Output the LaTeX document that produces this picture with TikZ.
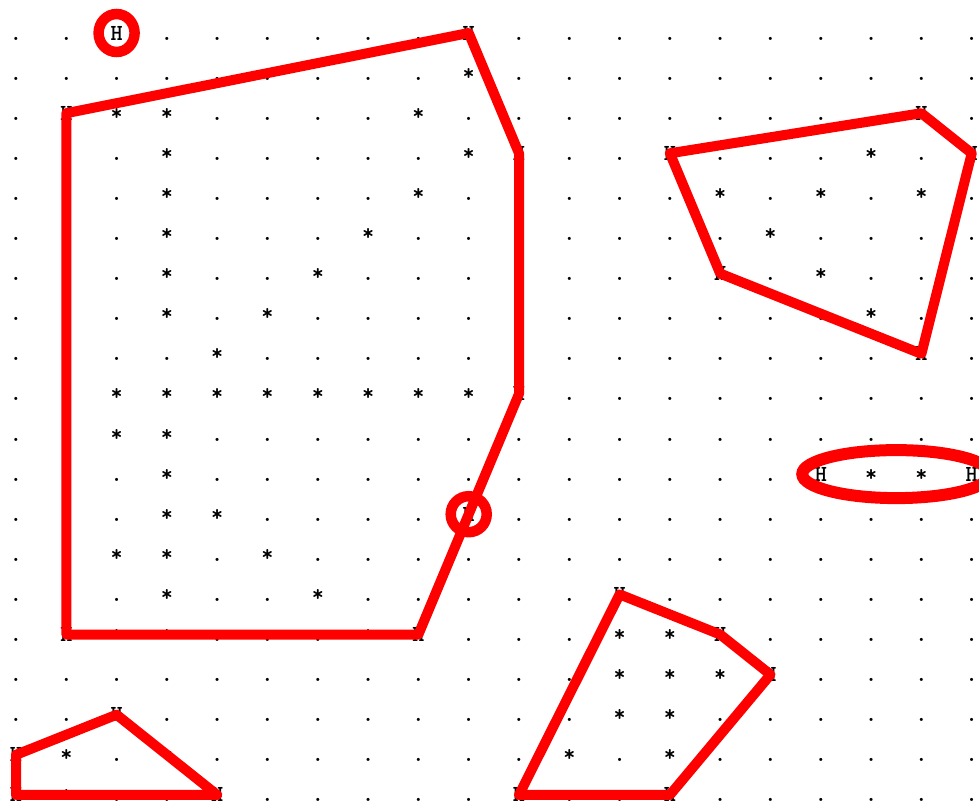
\documentclass[tikz,border=0pt]{standalone}
\usepackage{tikz}
\usetikzlibrary{calc}

\begin{document}
\begin{tikzpicture}[x=1pt,y=-1pt,
    cell/.style={font=\ttfamily\bfseries\fontsize{23}{23}\selectfont,inner sep=0pt,
      text height=14pt,text depth=0pt,anchor=base},
    hull/.style={draw=red,line width=10pt,line join=round},
    ring/.style={draw=red,line width=10.5pt}]
    \useasboundingbox (0,0) rectangle (979,806);
    % the point grid, one row per line
    \foreach \row [count=\j from 0] in {
      {.,.,H,.,.,.,.,.,.,H,.,.,.,.,.,.,.,.,.,.},
      {.,.,.,.,.,.,.,.,.,*,.,.,.,.,.,.,.,.,.,.},
      {.,H,*,*,.,.,.,.,*,.,.,.,.,.,.,.,.,.,H,.},
      {.,.,.,*,.,.,.,.,.,*,H,.,.,H,.,.,.,*,.,H},
      {.,.,.,*,.,.,.,.,*,.,.,.,.,.,*,.,*,.,*,.},
      {.,.,.,*,.,.,.,*,.,.,.,.,.,.,.,*,.,.,.,.},
      {.,.,.,*,.,.,*,.,.,.,.,.,.,.,H,.,*,.,.,.},
      {.,.,.,*,.,*,.,.,.,.,.,.,.,.,.,.,.,*,.,.},
      {.,.,.,.,*,.,.,.,.,.,.,.,.,.,.,.,.,.,H,.},
      {.,.,*,*,*,*,*,*,*,*,H,.,.,.,.,.,.,.,.,.},
      {.,.,*,*,.,.,.,.,.,.,.,.,.,.,.,.,.,.,.,.},
      {.,.,.,*,.,.,.,.,.,.,.,.,.,.,.,.,H,*,*,H},
      {.,.,.,*,*,.,.,.,.,H,.,.,.,.,.,.,.,.,.,.},
      {.,.,*,*,.,*,.,.,.,.,.,.,.,.,.,.,.,.,.,.},
      {.,.,.,*,.,.,*,.,.,.,.,.,H,.,.,.,.,.,.,.},
      {.,H,*,*,.,.,.,*,H,.,.,.,*,*,H,.,.,.,.,.},
      {.,.,.,.,.,.,.,.,.,.,.,.,*,*,*,H,.,.,.,.},
      {.,.,H,.,.,.,.,.,.,.,.,.,*,*,.,.,.,.,.,.},
      {H,*,.,*,.,.,.,.,.,.,.,*,.,*,.,.,.,.,.,.},
      {H,*,.,.,H,.,.,.,.,.,H,.,.,H,.,.,.,.,.,.}}{
      \foreach \c [count=\i from 0] in \row {
        \node[cell] (g-\i-\j) at ({16+50.3*\i},{40+40.1*\j}) {\c};
      }
    }
    % hulls
    \draw[hull] (g-1-2.center) -- (g-9-0.center) -- (g-10-3.center)
      -- (g-10-9.center) -- (g-8-15.center) -- (g-1-15.center) -- cycle;
    \draw[hull] (g-13-3.center) -- (g-18-2.center) -- (g-19-3.center)
      -- (g-18-8.center) -- (g-14-6.center) -- cycle;
    \draw[hull] (g-12-14.center) -- (g-14-15.center) -- (g-15-16.center)
      -- (g-13-19.center) -- (g-10-19.center) -- cycle;
    \draw[hull] (g-0-18.center) -- (g-2-17.center) -- (g-4-19.center)
      -- (g-0-19.center) -- cycle;
    % single points and the flat hull
    \draw[ring] (g-2-0.center) ellipse [x radius=18, y radius=19];
    \draw[ring] (g-9-12.center) circle [radius=18];
    \draw[ring,line width=12pt] ($(g-16-11.center)!0.5!(g-19-11.center)$)
      ellipse [x radius=94, y radius=24];
\end{tikzpicture}
\end{document}
